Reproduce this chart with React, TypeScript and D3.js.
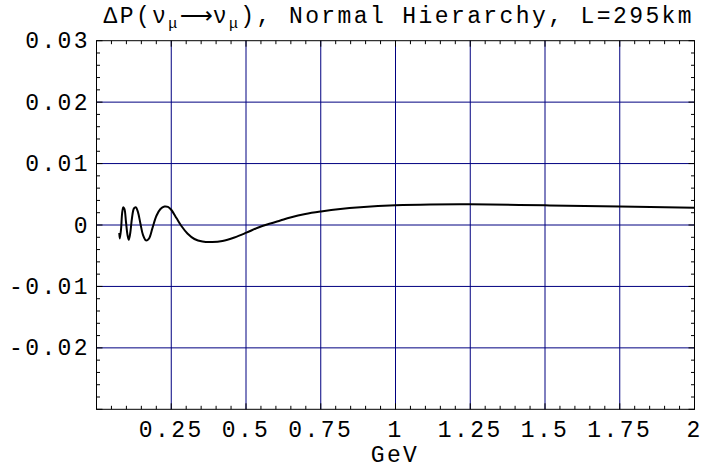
import React from "react";
import * as d3 from "d3";

const energyGeV = [
  0.0762, 0.0779, 0.0819, 0.0859, 0.0896, 0.0936, 0.0986, 0.1036, 0.1079, 0.1129,
  0.1186, 0.1253, 0.1313, 0.1387, 0.147, 0.1554, 0.1654, 0.1754, 0.1871, 0.2005,
  0.2139, 0.2272, 0.2389, 0.2506, 0.2673, 0.284, 0.3041, 0.3275, 0.3542, 0.3876,
  0.4211, 0.4612, 0.5013, 0.5414, 0.5815, 0.6149, 0.6483, 0.6984, 0.7509, 0.8154,
  0.8822, 1.0, 1.116, 1.25, 1.5, 1.75, 2.0,
];
const deltaP = [
  -0.0013, -0.0022, -0.0008, 0.002, 0.0029, 0.0026, 0.0005, -0.0016, -0.0024, -0.0013,
  0.0011, 0.0027, 0.0029, 0.0021, 0.0002, -0.0016, -0.0025, -0.0022, -0.0005, 0.0015,
  0.0026, 0.003, 0.00295, 0.00244, 0.00114, -0.00016, -0.00138, -0.00228, -0.00269, -0.00277,
  -0.0026, -0.00203, -0.00125, -0.0004, 0.00024, 0.00073, 0.00122, 0.00179, 0.0022, 0.0026,
  0.00288, 0.0032, 0.00334, 0.00337, 0.0032, 0.003, 0.0028,
];

const xTickValues = [0.25, 0.5, 0.75, 1, 1.25, 1.5, 1.75, 2];
const xTickLabels = ["0.25", "0.5", "0.75", "1", "1.25", "1.5", "1.75", "2"];
const yTickValues = [0.03, 0.02, 0.01, 0, -0.01, -0.02];
const yTickLabels = ["0.03", "0.02", "0.01", "0", "-0.01", "-0.02"];
const xGridValues = [0.25, 0.5, 0.75, 1, 1.25, 1.5, 1.75];
const yGridValues = [0.02, 0.01, 0, -0.01, -0.02];

const W = 706;
const H = 474;
const L = 96.5;
const R = 694.5;
const T = 40.7;
const B = 409.3;

export default function App() {
  const x = d3.scaleLinear().domain([0, 2]).range([L, R]);
  const y = d3.scaleLinear().domain([-0.03, 0.03]).range([B, T]);
  const pts: [number, number][] = energyGeV.map((e, i) => [e, deltaP[i]]);
  const line = d3
    .line<[number, number]>()
    .x((d) => x(d[0]))
    .y((d) => y(d[1]))
    .curve(d3.curveCatmullRom.alpha(0.5));

  const xMinor = d3.range(0, 2.0001, 0.05);
  const xMajor = d3.range(0, 2.0001, 0.25);
  const yMinor = d3.range(-0.03, 0.03001, 0.002);
  const yMajor = d3.range(-0.03, 0.03001, 0.01);
  const grid = "#000080";
  const font = "'Liberation Mono', 'DejaVu Sans Mono', monospace";
  const fs = 23;
  const ls = 2.4;

  return (
    <svg
      width={W}
      height={H}
      style={{ position: "absolute", left: 0, top: 0, background: "#fff" }}
      fontFamily={font}
    >
      <rect x={0} y={0} width={W} height={H} fill="#fff" />
      {xGridValues.map((v) => (
        <line key={"gx" + v} x1={x(v)} x2={x(v)} y1={T} y2={B} stroke={grid} strokeWidth={1} />
      ))}
      {yGridValues.map((v) => (
        <line key={"gy" + v} x1={L} x2={R} y1={y(v)} y2={y(v)} stroke={grid} strokeWidth={1} />
      ))}
      {xMinor.map((v, i) => {
        const major = xMajor.some((m) => Math.abs(m - v) < 1e-6);
        const len = major ? 6 : 3.5;
        return (
          <g key={"xt" + i}>
            <line x1={x(v)} x2={x(v)} y1={B} y2={B - len} stroke="#000" strokeWidth={1} />
            <line x1={x(v)} x2={x(v)} y1={T} y2={T + len} stroke="#000" strokeWidth={1} />
          </g>
        );
      })}
      {yMinor.map((v, i) => {
        const major = yMajor.some((m) => Math.abs(m - v) < 1e-6);
        const len = major ? 6 : 3.5;
        return (
          <g key={"yt" + i}>
            <line x1={L} x2={L + len} y1={y(v)} y2={y(v)} stroke="#000" strokeWidth={1} />
            <line x1={R} x2={R - len} y1={y(v)} y2={y(v)} stroke="#000" strokeWidth={1} />
          </g>
        );
      })}
      <rect x={L} y={T} width={R - L} height={B - T} fill="none" stroke="#000" strokeWidth={1} />
      <path d={line(pts) || ""} fill="none" stroke="#000" strokeWidth={2} />
      {xTickValues.map((v, i) => (
        <text
          key={"xl" + i}
          x={x(v)}
          y={437}
          fontSize={fs}
          letterSpacing={ls}
          textAnchor="middle"
          fill="#000"
        >
          {xTickLabels[i]}
        </text>
      ))}
      {yTickValues.map((v, i) => (
        <text
          key={"yl" + i}
          x={90}
          y={y(v) + 7.5}
          fontSize={fs}
          letterSpacing={ls}
          textAnchor="end"
          fill="#000"
        >
          {yTickLabels[i]}
        </text>
      ))}
      <text x={395} y={462} fontSize={fs} letterSpacing={ls} textAnchor="middle" fill="#000">
        GeV
      </text>
      <text x={694} y={23} fontSize={fs} letterSpacing={ls} fill="#000" textAnchor="end">
        <tspan>∆P(ν</tspan>
        <tspan fontSize={15} dy={5}>μ</tspan>
        <tspan dy={-5} fontFamily="'DejaVu Sans'" letterSpacing={0}>⟶</tspan>
        <tspan>ν</tspan>
        <tspan fontSize={15} dy={5}>μ</tspan>
        <tspan dy={-5}>), Normal Hierarchy, L=295km</tspan>
      </text>
    </svg>
  );
}
